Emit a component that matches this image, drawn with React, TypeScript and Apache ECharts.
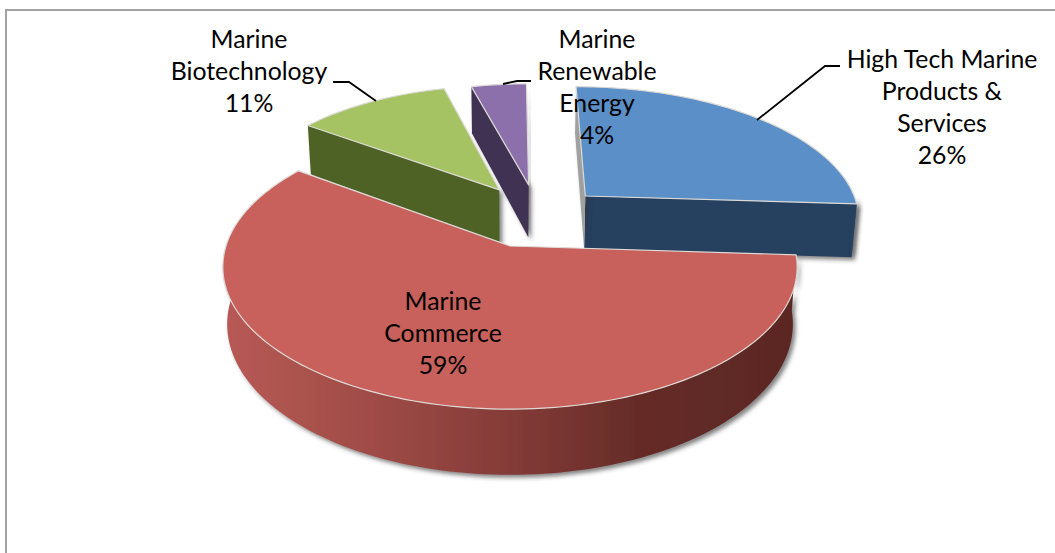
import React, { useEffect, useRef } from "react";
import * as echarts from "echarts";

// Ocean-economy sectors, in clockwise order from twelve o'clock.
const categories = [
  "High Tech Marine Products & Services",
  "Marine Commerce",
  "Marine Biotechnology",
  "Marine Renewable Energy",
];
const shares = [26, 59, 11, 4];

const labelLines = [
  ["High Tech Marine", "Products &", "Services"],
  ["Marine", "Commerce"],
  ["Marine", "Biotechnology"],
  ["Marine", "Renewable", "Energy"],
];

const topColors = ["#5B8FC7", "#C8605B", "#A6C364", "#8B70AC"];
const wallColors = ["#254061", "#9A4540", "#4F6228", "#403152"];

// Back slices are painted first so the large front slice can overlap them.
const paintOrder = [3, 2, 0, 1];

// Slice displacement on the pie's plane, and each slice's radius.
const explodeU = [0.28, 0, -0.04, 0.07];
const explodeV = [0.38, 0, 0.43, 0.47];
const sliceRadius = [1, 1, 0.96, 0.94];

const labelCentres = [
  [942, 58],
  [443, 300],
  [249, 38],
  [597, 38],
];
const LINE_STEP = 32.3;
const leaderPaths = [
  [[757, 120], [825, 66], [840, 66]],
  null,
  [[376, 101], [349, 82], [333, 82]],
  [[503, 84], [517, 81], [531, 81]],
];

// Perspective projection of the pie's plane onto the screen.
const CX = 510;
const CY = 246;
const FX = 284;
const FY = 139;
const PERSPECTIVE = 0.148;
const THICKNESS = 56;
const FLOOR_SCALE = 0.985;

function project(u: number, v: number, lower: boolean): number[] {
  const w = 1 + PERSPECTIVE * v;
  const x = (FX * u) / w;
  const y = (-FY * v) / w;
  return lower
    ? [CX + x * FLOOR_SCALE, CY + y + THICKNESS / w]
    : [CX + x, CY + y];
}

const total = shares.reduce((a, b) => a + b, 0);
const startAngles: number[] = [];
shares.reduce((acc, s, i) => {
  startAngles[i] = (acc / total) * 360;
  return acc + s;
}, 0);

function rimPoint(i: number, deg: number, lower: boolean): number[] {
  const t = (deg * Math.PI) / 180;
  const r = sliceRadius[i];
  return project(explodeU[i] + r * Math.sin(t), explodeV[i] + r * Math.cos(t), lower);
}

function arcPoints(i: number, from: number, to: number, lower: boolean): number[][] {
  const n = Math.max(2, Math.ceil(Math.abs(to - from) / 1.5));
  const pts: number[][] = [];
  for (let k = 0; k <= n; k++) pts.push(rimPoint(i, from + ((to - from) * k) / n, lower));
  return pts;
}

const edgeShadow = {
  shadowColor: "rgba(50,50,50,0.6)",
  shadowBlur: 4,
  shadowOffsetX: 3,
  shadowOffsetY: 3,
};

function sliceElements(i: number) {
  const from = startAngles[i];
  const to = from + (shares[i] / total) * 360;
  const hub = project(explodeU[i], explodeV[i], false);
  const hubLow = project(explodeU[i], explodeV[i], true);
  const children: any[] = [];

  const radialWall = (deg: number, fill: string) => ({
    type: "polygon",
    shape: { points: [hub, rimPoint(i, deg, false), rimPoint(i, deg, true), hubLow] },
    style: { fill, ...edgeShadow },
  });
  // A cut face turned towards the viewer is dark; one seen edge-on only casts a grey strip.
  const sinTo = Math.sin((to * Math.PI) / 180);
  const sinFrom = Math.sin((from * Math.PI) / 180);
  if (sinTo > 0.01) children.push(radialWall(to, wallColors[i]));
  else if (Math.abs(sinTo) <= 0.01) children.push(radialWall(to, "#A0A0A0"));
  if (sinFrom < -0.01) children.push(radialWall(from, wallColors[i]));
  else if (Math.abs(sinFrom) <= 0.01) children.push(radialWall(from, "#A0A0A0"));

  const rimFrom = Math.max(from, 90);
  const rimTo = Math.min(to, 280);
  if (rimTo > rimFrom) {
    const fill =
      i === 1
        ? new echarts.graphic.LinearGradient(0, 0, 1, 0, [
            { offset: 0, color: "#B85A55" },
            { offset: 0.25, color: "#A04C47" },
            { offset: 0.5, color: "#843B37" },
            { offset: 0.72, color: "#662C28" },
            { offset: 1, color: "#5A2723" },
          ])
        : wallColors[i];
    children.push({
      type: "polygon",
      shape: {
        points: [
          ...arcPoints(i, rimFrom, rimTo, false),
          ...arcPoints(i, rimTo, rimFrom, true),
        ],
      },
      style: { fill, ...edgeShadow },
    });
  }

  children.push({
    type: "polygon",
    shape: { points: [hub, ...arcPoints(i, from, to, false)] },
    style: { fill: topColors[i], stroke: "#DDDAD6", lineWidth: 1.2, lineJoin: "round" },
  });
  return children;
}

function labelElements(i: number) {
  const [x, y] = labelCentres[i];
  const lines = [...labelLines[i], `${shares[i]}%`];
  const children: any[] = lines.map((line, k) => ({
    type: "text",
    x,
    y: y + k * LINE_STEP,
    style: {
      text: line,
      fill: "#000000",
      font: '24.8px Lato, "Open Sans", sans-serif',
      align: "center",
      verticalAlign: "middle",
    },
  }));
  const leader = leaderPaths[i];
  if (leader) {
    children.push({
      type: "polyline",
      shape: { points: leader },
      style: { stroke: "#000000", lineWidth: 1.8, fill: "none" },
    });
  }
  return children;
}

export default function App() {
  const ref = useRef<HTMLDivElement>(null);

  useEffect(() => {
    const chart = echarts.init(ref.current!, undefined, { renderer: "svg" });
    chart.setOption({
      animation: false,
      backgroundColor: "#FFFFFF",
      graphic: [
        {
          type: "polyline",
          silent: true,
          shape: { points: [[6, 553], [6, 10], [1055, 10]] },
          style: { stroke: "#A3A3A3", lineWidth: 2, fill: "none" },
        },
      ],
      series: [
        {
          type: "custom",
          coordinateSystem: "none",
          silent: true,
          data: paintOrder.map((i) => ({ value: shares[i], name: categories[i] })),
          renderItem: (params: any) => ({
            type: "group",
            children: sliceElements(paintOrder[params.dataIndex]),
          }),
        },
        {
          type: "custom",
          coordinateSystem: "none",
          silent: true,
          z: 5,
          data: categories.map((name, i) => ({ value: shares[i], name })),
          renderItem: (params: any) => ({
            type: "group",
            children: labelElements(params.dataIndex),
          }),
        },
      ],
    });
    return () => chart.dispose();
  }, []);

  return (
    <div
      ref={ref}
      style={{ position: "absolute", left: 0, top: 0, width: 1055, height: 553 }}
    />
  );
}
